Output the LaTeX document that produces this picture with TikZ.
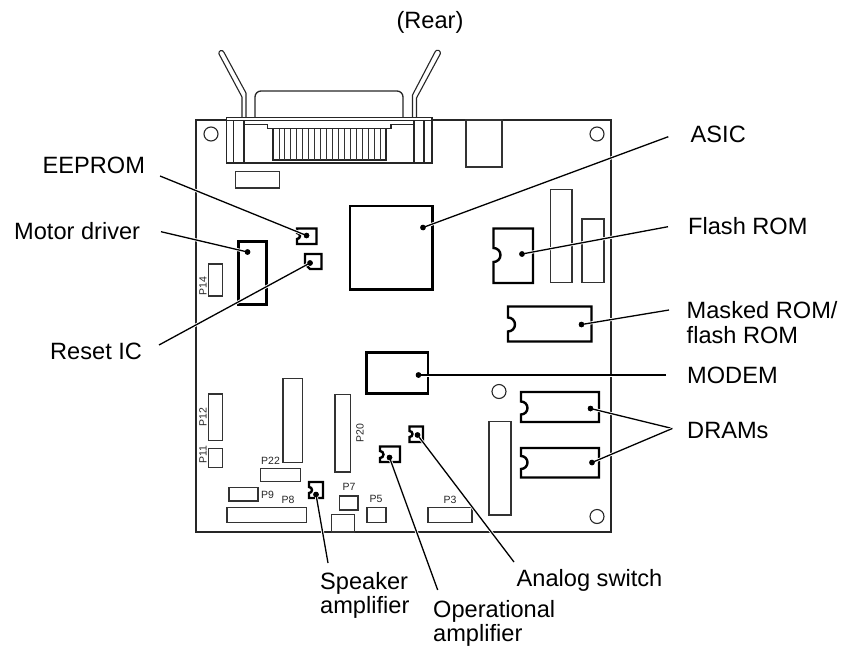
\documentclass[tikz,border=0pt]{standalone}
\usepackage{fontspec}
\setmainfont{Liberation Sans}
\newcommand{\chipoutline}[6]{% x1 y1 x2 y2 notchy r
  \draw[chipline] (#1,#2) -- (#3,#2) -- (#3,#4) -- (#1,#4) -- (#1,#5+#6)
    arc[start angle=-90,end angle=90,radius=#6 pt] -- cycle;}
\tikzset{
  x=1pt,y=-1pt,
  thinline/.style={line width=1.1pt,draw=black!85},
  partrect/.style={line width=1.2pt,draw=black!80},
  chipline/.style={line width=2.4pt,draw=black,line join=miter},
  leader/.style={line width=1.3pt,draw=black,preaction={draw=white,line width=3pt}},
  dotmark/.style={circle,fill=black,inner sep=0pt,minimum size=5.5pt},
  lab/.style={font=\fontsize{23.6}{24.2}\selectfont,inner sep=0pt,align=left},
  plab/.style={font=\fontsize{10.5}{12}\selectfont,inner sep=0pt,text=black!85},
}
\begin{document}
\begin{tikzpicture}
\useasboundingbox (0,0) rectangle (845,650);
% board
\draw[thinline,line width=1.3pt] (196,120) -- (611,120) -- (611,532) -- (196,532) -- cycle;
% board holes
\draw[thinline] (211,134) circle[radius=7pt];
\draw[thinline] (597,134) circle[radius=7pt];
\draw[thinline] (499,391.5) circle[radius=7pt];
\draw[thinline] (597,516.5) circle[radius=7pt];
% levers
\draw[thinline,line join=round] (242,117.5) -- (242,97) -- (219,54) arc[start angle=200,end angle=20,radius=2.6pt] -- (246,93) -- (246,117.5);
\draw[thinline,line join=round] (412.5,117.5) -- (412.5,95) -- (435,52) arc[start angle=160,end angle=-20,radius=2.8pt] -- (416.5,98) -- (416.5,117.5);
% hood
\draw[thinline,line width=1.3pt] (255,117.5) -- (255,98) [rounded corners=6pt] -- (255,91) -- (403,91) [sharp corners] -- (403,117.5);
% connector
\draw[thinline,line width=1.4pt,fill=white] (226.5,117.5) rectangle (432,163);
\draw[thinline] (226.5,120.5) -- (432,120.5);
\foreach \xx in {233.5,244,414,424}{\draw[thinline,line width=1.3pt] (\xx,120.5) -- (\xx,163);}
\draw[thinline] (244,124.5) -- (267.5,124.5) -- (267.5,128.5) -- (391,128.5) -- (391,124.5) -- (414,124.5);
\draw[thinline] (273,128.5) rectangle (386,160);
\foreach \i in {1,...,18}{\draw[line width=.9pt,draw=black!80] ({273+\i*5.95},128.5) -- ({273+\i*5.95},160);}
% plain parts
\foreach \xa/\ya/\xb/\yb in {
  466/120/502/167, 235.5/171.5/279.5/188,
  208.5/264/222.5/296, 550.5/189.5/572/282.5, 582/219/604/282.5,
  489/421.5/511/515, 208.5/394/222.5/440.5, 208.5/448.5/222.5/467.5,
  283/378.5/302.5/462.5, 335/394.5/350.5/472, 260.5/468.5/300.5/481.5,
  229/487.5/258/501, 227/507.5/306.5/522.5, 339.5/496/358/510,
  331.5/532/354.5/514.5, 367/507.5/386/522.5, 428/507.5/472/522.5}{
  \draw[partrect] (\xa,\ya) rectangle (\xb,\yb);}
% connector labels
\node[plab,rotate=90] (p14) at (203,286) {P14};
\node[plab,rotate=90] (p12) at (203,417) {P12};
\node[plab,rotate=90] (p11) at (203,455) {P11};
\node[plab,rotate=90] (p20) at (360,433) {P20};
\node[plab] (p22) at (270.5,460.5) {P22};
\node[plab] (p9) at (267.5,495) {P9};
\node[plab] (p8) at (288,500) {P8};
\node[plab] (p7) at (349,487) {P7};
\node[plab] (p5) at (376,499) {P5};
\node[plab] (p3) at (450,499.5) {P3};
% chips
\draw[chipline] (350,206) rectangle (432.5,289.5);
\draw[chipline] (366.5,352.5) rectangle (428,393.5);
\draw[chipline] (238.5,241.5) rectangle (266.5,304.5);
\draw[chipline] (305,254) -- (321.5,254) -- (321.5,269) -- (310,269) -- (305,264) -- cycle;
\chipoutline{297}{228.5}{316.5}{244}{236}{3}
\chipoutline{493.5}{228.5}{533}{283}{255}{7}
\chipoutline{508}{306.5}{591.5}{341.5}{324.5}{7}
\chipoutline{521}{392}{599}{422}{408}{6.5}
\chipoutline{521}{448}{599}{477.5}{462.5}{6.5}
\chipoutline{309}{482}{323}{498}{490}{3}
\chipoutline{380}{446.5}{400}{462}{454.5}{3.5}
\chipoutline{409.5}{426.5}{423}{442}{434}{3}
% labels
\node[lab] (rear) at (430,22) {(Rear)};
\node[lab,anchor=west] (asic) at (690.5,134.5) {ASIC};
\node[lab,anchor=west] (eeprom) at (42.5,165.5) {EEPROM};
\node[lab,anchor=west] (motor) at (14,231.5) {Motor driver};
\node[lab,anchor=west] (flash) at (688,226) {Flash ROM};
\node[lab,anchor=west] (masked) at (686.5,322.5) {Masked ROM/\\flash ROM};
\node[lab,anchor=west] (reset) at (50,351.5) {Reset IC};
\node[lab,anchor=west] (modem) at (687,375) {MODEM};
\node[lab,anchor=west] (drams) at (687,430) {DRAMs};
\node[lab,anchor=west] (speaker) at (320,595) {Speaker\\amplifier};
\node[lab,anchor=west] (opamp) at (433,623) {Operational\\amplifier};
\node[lab,anchor=west] (analog) at (516.5,580) {Analog switch};
% dots
\node[dotmark] (dasic) at (423,227.5) {};
\node[dotmark] (deeprom) at (306.5,235.5) {};
\node[dotmark] (dmotor) at (247.5,252) {};
\node[dotmark] (dreset) at (310,263) {};
\node[dotmark] (dflash) at (522,254) {};
\node[dotmark] (dmasked) at (581.5,324.5) {};
\node[dotmark] (dmodem) at (418.5,375) {};
\node[dotmark] (ddram) at (590.5,408.5) {};
\node[dotmark] (ddramb) at (592,462.5) {};
\node[dotmark] (dspeaker) at (316,494.5) {};
\node[dotmark] (dopamp) at (389.5,457.5) {};
\node[dotmark] (danalog) at (417.5,435) {};
% free ends
\coordinate (easic) at (668.3,136.7);
\coordinate (eeeprom) at (160,176);
\coordinate (emotor) at (161,231.7);
\coordinate (ereset) at (159,345);
\coordinate (eflash) at (668,226.7);
\coordinate (emasked) at (669,310);
\coordinate (emodem) at (666,375);
\coordinate (edram) at (672.3,428.5);
\coordinate (espeaker) at (328,563);
\coordinate (eopamp) at (437.7,590);
\coordinate (eanalog) at (514,562);
% leaders
\draw[leader] (eeeprom) -- (deeprom.center);
\draw[leader] (emotor) -- (dmotor.center);
\draw[leader] (ereset) -- (dreset.center);
\draw[leader] (easic) -- (dasic.center);
\draw[leader] (eflash) -- (dflash.center);
\draw[leader] (emasked) -- (dmasked.center);
\draw[leader] (emodem) -- (dmodem.center);
\draw[leader] (edram) -- (ddram.center);
\draw[leader] (edram) -- (ddramb.center);
\draw[leader] (espeaker) -- (dspeaker.center);
\draw[leader] (eopamp) -- (dopamp.center);
\draw[leader] (eanalog) -- (danalog.center);
\node[dotmark] at (dasic) {};
\node[dotmark] at (deeprom) {};
\node[dotmark] at (dmotor) {};
\node[dotmark] at (dreset) {};
\node[dotmark] at (dflash) {};
\node[dotmark] at (dmasked) {};
\node[dotmark] at (dmodem) {};
\node[dotmark] at (ddram) {};
\node[dotmark] at (ddramb) {};
\node[dotmark] at (dspeaker) {};
\node[dotmark] at (dopamp) {};
\node[dotmark] at (danalog) {};
\end{tikzpicture}
\end{document}
